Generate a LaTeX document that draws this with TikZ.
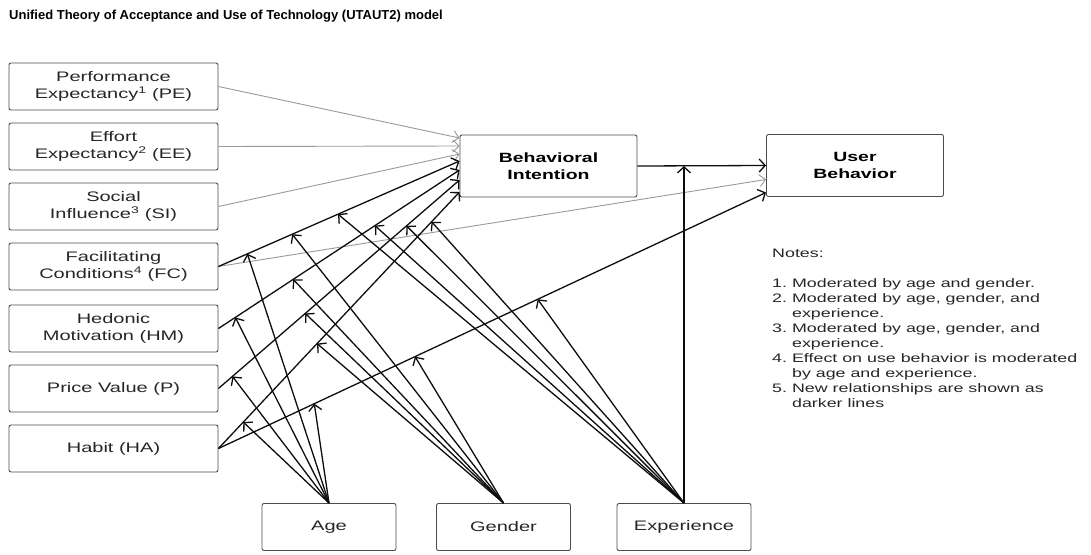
\documentclass[tikz,border=0pt]{standalone}
\usepackage{fontspec}
\setmainfont{Liberation Sans}[FakeStretch=1.45]
\newfontfamily\titlefont{Liberation Sans}
\usetikzlibrary{arrows.meta,calc}

\tikzset{
	factor/.style={draw=black!70, rounded corners=2pt, line width=0.9pt, minimum width=209pt, minimum height=47pt, align=center, text=black!85, font=\fontsize{13.8}{16.7}\selectfont},
	outcome/.style={factor, minimum width=177pt, minimum height=62pt, text=black, font=\fontsize{13.4}{16.7}\selectfont\bfseries},
	moderator/.style={factor, minimum width=134pt},
	oldpath/.style={draw=black!40, line width=0.9pt, -{Straight Barb[length=6pt,width=12pt]}},
	newpath/.style={draw=black!95, line width=1.3pt, -{Straight Barb[length=6pt,width=13pt]}},
}

\begin{document}
\begin{tikzpicture}[x=1pt, y=-1pt]
	\useasboundingbox (0,0) rectangle (1091,554);
	\node [anchor=base west, inner sep=0pt, font={\fontsize{13}{15}\titlefont\bfseries}] (title) at (9,19) {Unified Theory of Acceptance and Use of Technology (UTAUT2) model};

	\node [factor] (pe) at (113.5, 86.5) {Performance\\Expectancy\textsuperscript{1} (PE)};
	\node [factor] (ee) at (113.5, 146.5) {Effort\\Expectancy\textsuperscript{2} (EE)};
	\node [factor] (si) at (113.5, 206.5) {Social\\Influence\textsuperscript{3} (SI)};
	\node [factor] (fc) at (113.5, 266.5) {Facilitating\\Conditions\textsuperscript{4} (FC)};
	\node [factor] (hm) at (113.5, 328.5) {Hedonic\\Motivation (HM)};
	\node [factor] (pv) at (113.5, 388.5) {Price Value (P)};
	\node [factor] (ha) at (113.5, 448.5) {Habit (HA)};
	\node [outcome] (bi) at (548.5, 166) {Behavioral\\Intention};
	\node [outcome] (ub) at (855, 165.5) {User\\Behavior};
	\node [moderator] (age) at (329, 527) {Age};
	\node [moderator] (gender) at (503.5, 527) {Gender};
	\node [moderator] (exp) at (684, 527) {Experience};

	\node [anchor=base west, inner sep=0pt, text=black!85, font=\fontsize{12.3}{15}\selectfont] (notes) at (772,257) {\begin{tabular}[t]{@{}l@{\hspace{5pt}}l@{}}
		\multicolumn{2}{@{}l}{Notes:}\\
		\\
		1. & Moderated by age and gender.\\
		2. & Moderated by age, gender, and\\
		   & experience.\\
		3. & Moderated by age, gender, and\\
		   & experience.\\
		4. & Effect on use behavior is moderated\\
		   & by age and experience.\\
		5. & New relationships are shown as\\
		   & darker lines
	\end{tabular}};

	% ends on the intention and behavior boxes
	\coordinate (bi-pe) at ($(bi.west)+(0,-28)$);
	\coordinate (bi-ee) at ($(bi.west)+(0,-20)$);
	\coordinate (bi-si) at ($(bi.west)+(0,-12)$);
	\coordinate (bi-fc) at ($(bi.west)+(0,-5)$);
	\coordinate (bi-hm) at ($(bi.west)+(0,4)$);
	\coordinate (bi-pv) at ($(bi.west)+(0,14)$);
	\coordinate (bi-ha) at ($(bi.west)+(0,26)$);
	\coordinate (ub-fc) at ($(ub.west)+(0,14)$);
	\coordinate (ub-ha) at ($(ub.west)+(0,27)$);

	% old paths
	\draw [oldpath] (pe.east) -- (bi-pe);
	\draw [oldpath] (ee.east) -- (bi-ee);
	\draw [oldpath] (si.east) -- (bi-si);
	\draw [oldpath] (fc.east) -- (ub-fc);

	% new paths
	\draw [newpath] (fc.east) -- (bi-fc);
	\draw [newpath] (hm.east) -- (bi-hm);
	\draw [newpath] (pv.east) -- (bi-pv);
	\draw [newpath] (ha.east) -- (bi-ha);
	\draw [newpath] (ha.east) -- (ub-ha);
	\draw [newpath] (bi.east) -- (ub.west);

	% moderated points
	\coordinate (fc-a) at ($(fc.east)!0.12!(bi-fc)$);
	\coordinate (fc-g) at ($(fc.east)!0.306!(bi-fc)$);
	\coordinate (fc-x) at ($(fc.east)!0.496!(bi-fc)$);
	\coordinate (hm-a) at ($(hm.east)!0.07!(bi-hm)$);
	\coordinate (hm-g) at ($(hm.east)!0.31!(bi-hm)$);
	\coordinate (hm-x) at ($(hm.east)!0.649!(bi-hm)$);
	\coordinate (pv-a) at ($(pv.east)!0.058!(bi-pv)$);
	\coordinate (pv-g) at ($(pv.east)!0.36!(bi-pv)$);
	\coordinate (pv-x) at ($(pv.east)!0.78!(bi-pv)$);
	\coordinate (ha-a) at ($(ha.east)!0.103!(bi-ha)$);
	\coordinate (ha-g) at ($(ha.east)!0.409!(bi-ha)$);
	\coordinate (ha-x) at ($(ha.east)!0.884!(bi-ha)$);
	\coordinate (hu-a) at ($(ha.east)!0.175!(ub-ha)$);
	\coordinate (hu-g) at ($(ha.east)!0.359!(ub-ha)$);
	\coordinate (hu-x) at ($(ha.east)!0.583!(ub-ha)$);
	\coordinate (bu-x) at (exp.north |- bi.east);

	% age
	\draw [newpath] (age.north) to (fc-a);
	\draw [newpath] (age.north) to (hm-a);
	\draw [newpath] (age.north) to (pv-a);
	\draw [newpath] (age.north) to (ha-a);
	\draw [newpath] (age.north) to (hu-a);
	% gender
	\draw [newpath] (gender.north) to (fc-g);
	\draw [newpath] (gender.north) to (hm-g);
	\draw [newpath] (gender.north) to (pv-g);
	\draw [newpath] (gender.north) to (ha-g);
	\draw [newpath] (gender.north) to (hu-g);
	% experience
	\draw [newpath] (exp.north) to (fc-x);
	\draw [newpath] (exp.north) to (hm-x);
	\draw [newpath] (exp.north) to (pv-x);
	\draw [newpath] (exp.north) to (ha-x);
	\draw [newpath] (exp.north) to (hu-x);
	\draw [newpath] (exp.north) to (bu-x);
\end{tikzpicture}
\end{document}
